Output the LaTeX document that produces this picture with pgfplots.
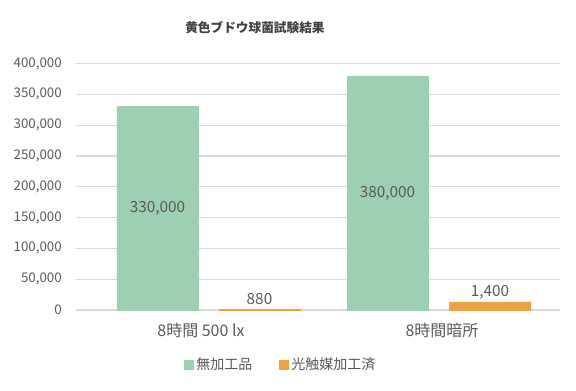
\documentclass[border=0pt]{standalone}
\usepackage{fontspec}
\setmainfont{Noto Sans CJK JP}
\usepackage{pgfplots}
\pgfplotsset{compat=1.18}
\definecolor{cgreen}{HTML}{9DD0B2}
\definecolor{corange}{HTML}{ECA346}
\definecolor{ctext}{HTML}{595959}
\definecolor{ctitle}{HTML}{404040}
\definecolor{cgrid}{HTML}{D9D9D9}
\begin{document}
\begin{tikzpicture}
\path[use as bounding box] (0,0) rectangle (432pt,292.5pt);
\begin{axis}[
  at={(57pt,60pt)}, anchor=south west,
  scale only axis, width=363pt, height=184.875pt,
  xmin=76, xmax=560, ymin=0, ymax=400000,
  axis lines*=left, axis line style={draw=none},
  major tick length=0pt,
  ytick={0,50000,...,400000},
  scaled y ticks=false,
  /pgf/number format/fixed,
  /pgf/number format/1000 sep={,},
  /pgf/number format/assume math mode=true,
  yticklabel style={anchor=east, inner sep=0pt, xshift=-10.5pt, font=\fontsize{10}{12}\selectfont, text=ctext},
  xtick={201,442},
  xticklabels={8時間 500 lx, 8時間暗所},
  xticklabel style={anchor=center, inner sep=0pt, yshift=-15pt, font=\fontsize{12}{14}\selectfont, text=ctext},
  ymajorgrids, grid style={cgrid, line width=0.9pt},
  legend image code/.code={\fill[#1] (0pt,-3.4pt) rectangle (6.8pt,3.4pt);},
  legend style={at={(0.4236,-0.2231)}, anchor=center, draw=none, fill=none,
    legend columns=2, font=\fontsize{10.5}{12}\selectfont, text=ctext, inner sep=0pt,
    /tikz/every even column/.append style={column sep=18pt}},
  legend cell align=left,
]
\addplot[ybar, bar width=81, bar shift=0pt, fill=cgreen, draw=cgreen] coordinates {(157.5,330000) (387.5,380000)};
\addlegendentry{無加工品}
\addplot[ybar, bar width=81, bar shift=0pt, fill=corange, draw=corange] coordinates {(259.5,880) (490,13000)};
\addlegendentry{光触媒加工済}
\node[font=\fontsize{11.5}{14}\selectfont, text=ctext] at (axis cs:157.5,165000) {330,000};
\node[font=\fontsize{11.5}{14}\selectfont, text=ctext] at (axis cs:387.5,190000) {380,000};
\node[font=\fontsize{11.5}{14}\selectfont, text=ctext] at (axis cs:259.5,17850) {880};
\node[font=\fontsize{11.5}{14}\selectfont, text=ctext] at (axis cs:490,28070) {1,400};
\end{axis}
\node[font=\fontsize{9.5}{11}\selectfont\bfseries, text=ctitle] at (191.25pt,271.9pt) {黄色ブドウ球菌試験結果};
\end{tikzpicture}
\end{document}
